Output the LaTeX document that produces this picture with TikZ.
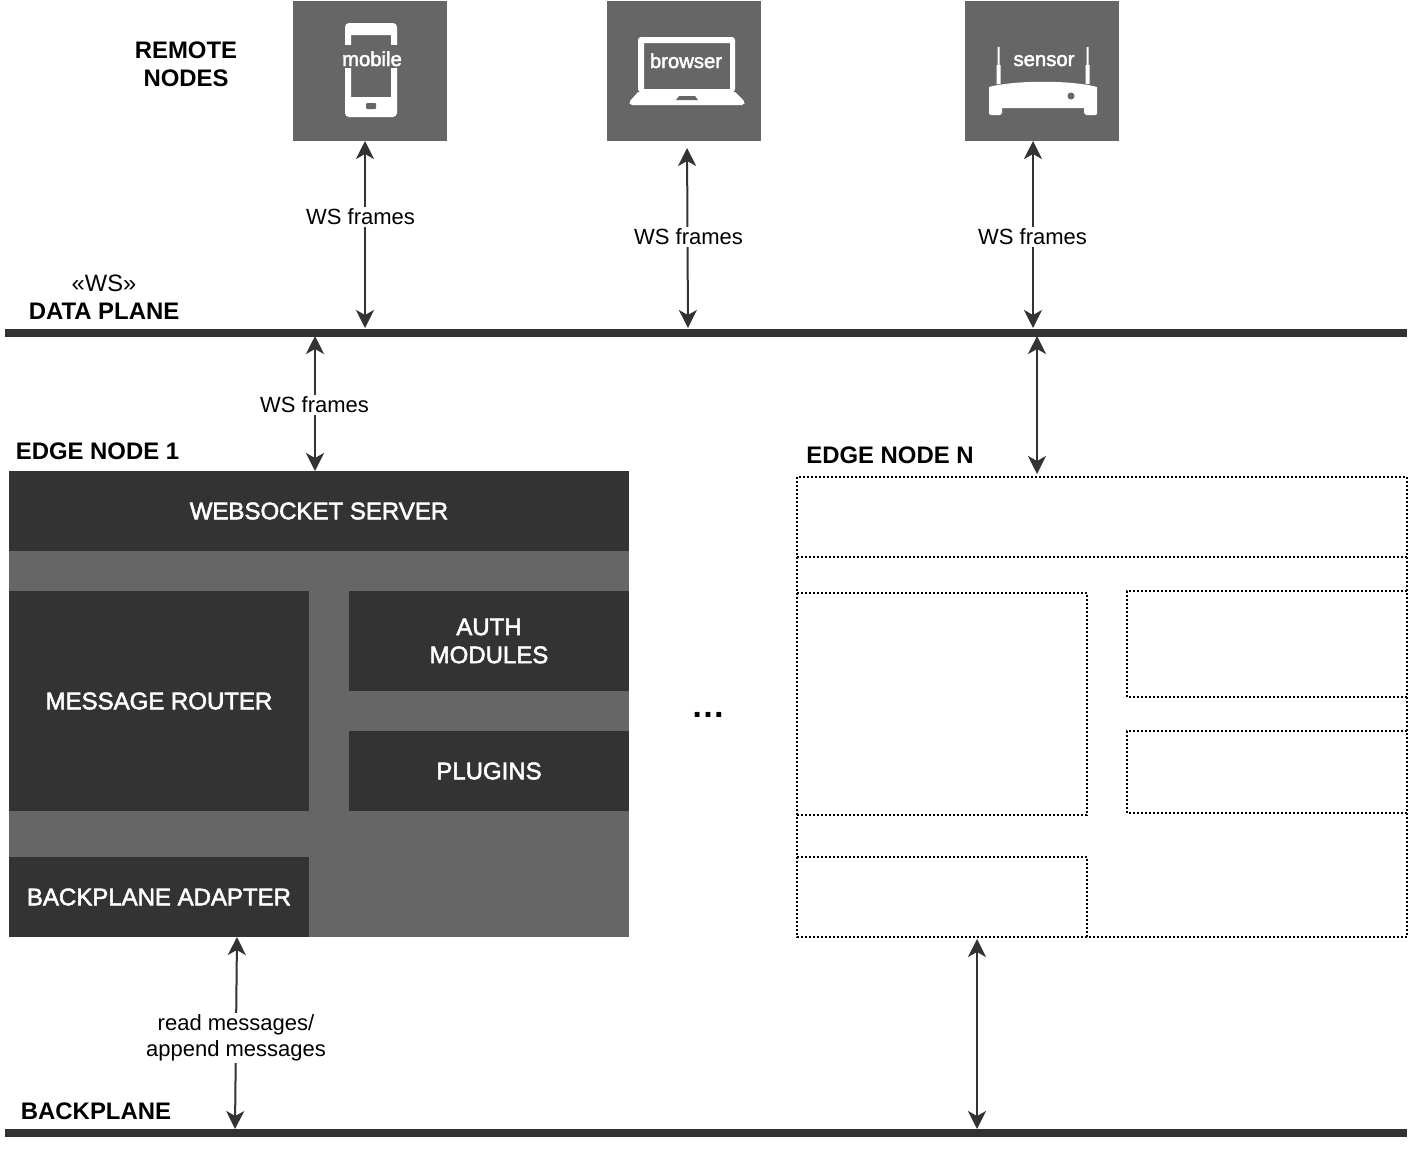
\documentclass[tikz,border=0pt]{standalone}
\usepackage{fontspec}
\setmainfont{Liberation Sans}
\newfontfamily\paneface[FakeBold=2.2]{Liberation Sans}
\usetikzlibrary{arrows.meta}
\definecolor{midgray}{HTML}{666666}
\definecolor{darkgray}{HTML}{333333}
\tikzset{
  pane/.style={anchor=north west,inner sep=0pt,outer sep=0pt,fill=#1,draw=none,text=white,align=center,font=\fontsize{24}{28}\paneface},
  ghost/.style={anchor=north west,inner sep=0pt,outer sep=0pt,draw=none},
  ghostline/.style={draw=black,line width=2pt,dash pattern=on 2pt off 2pt},
  bar/.style={anchor=north west,inner sep=0pt,outer sep=0pt,fill=darkgray,minimum width=1402pt,minimum height=8pt},
  conn/.style={draw=darkgray,line width=2pt,{Stealth[length=18pt,width=18pt,inset=5pt]}-{Stealth[length=18pt,width=18pt,inset=5pt]}},
  lbl/.style={fill=white,inner sep=1.5pt,align=center,text=black,font=\fontsize{22}{26}\selectfont},
  heading/.style={inner sep=0pt,align=center,text=black,font=\fontsize{23.9}{28}\selectfont\bfseries},
  icontext/.style={inner sep=0pt,anchor=base,text=white,font=\fontsize{20.3}{24}\paneface},
}
\begin{document}
\begin{tikzpicture}[x=1pt,y=-1pt]
\useasboundingbox (0,0) rectangle (1412,1152);

% remote nodes
\node[pane=midgray,minimum width=154pt,minimum height=140pt] (mobile) at (293,1) {};
\node[pane=midgray,minimum width=154pt,minimum height=140pt] (browser) at (607,1) {};
\node[pane=midgray,minimum width=154pt,minimum height=140pt] (sensor) at (965,1) {};

% phone icon
\fill[white,even odd rule,rounded corners=4pt] (345,23) rectangle (397,117)
  [sharp corners] (351,35) rectangle (391,97);
\fill[midgray,rounded corners=1pt] (366,103) rectangle (376,109);
\fill[midgray] (342,45) rectangle (402,68);
\node[icontext] (mobiletext) at (372,66) {mobile};

% laptop icon
\fill[white,even odd rule,rounded corners=3pt] (638,37) -- (735,37) -- (735,92) -- (638,92) -- cycle
  [sharp corners] (644,43) rectangle (730,89);
\fill[white,rounded corners=2pt] (639,91) -- (734,91) -- (745,102) -- (744,105) -- (630,105) -- (629,102) -- cycle;
\fill[midgray] (679,96) -- (695,96) -- (698,100) -- (676,100) -- cycle;
\node[icontext] (browsertext) at (686,68) {browser};

% router icon
\fill[white] (997.5,47) rectangle (999.5,65) (996.5,65) rectangle (1000.5,84);
\fill[white] (1086.5,47) rectangle (1088.5,65) (1085.5,65) rectangle (1089.5,84);
\fill[white] (989,87) .. controls (1015,80) and (1071,80) .. (1097,87) -- (1097,114) -- (1095,115) -- (1086,115) -- (1084,113) -- (1084,108) -- (1002,108) -- (1002,113) -- (1000,115) -- (991,115) -- (989,114) -- cycle;
\fill[midgray] (1071,96) circle[radius=3.5];
\node[icontext] (sensortext) at (1044,66) {sensor};

% headings
\node[heading] (remote) at (186,64) {REMOTE\\NODES};
\node[inner sep=0pt,text=black,font=\fontsize{23.7}{28}\selectfont] (ws) at (104,283) {«WS»};
\node[heading] (dataplane) at (104,311) {DATA PLANE};
\node[heading] (edge1) at (97.5,451.5) {EDGE NODE 1};
\node[heading] (edgen) at (890,455.5) {EDGE NODE N};
\node[heading] (backplane) at (96,1111.5) {BACKPLANE};
\node[inner sep=0pt,anchor=base,text=black,font=\fontsize{34}{38}\selectfont\bfseries] (dots) at (708,717) {…};

% bars
\node[bar] (databar) at (5,329) {};
\node[bar] (backbar) at (5,1129) {};

% edge node 1
\node[pane=midgray,minimum width=620pt,minimum height=466pt] (node1) at (9,471) {};
\node[pane=darkgray,minimum width=620pt,minimum height=80pt] (wsserver) at (9,471) {WEBSOCKET SERVER};
\node[pane=darkgray,minimum width=300pt,minimum height=220pt] (router) at (9,591) {MESSAGE ROUTER};
\node[pane=darkgray,minimum width=280pt,minimum height=100pt] (auth) at (349,591) {AUTH\\MODULES};
\node[pane=darkgray,minimum width=280pt,minimum height=80pt] (plugins) at (349,731) {PLUGINS};
\node[pane=darkgray,minimum width=300pt,minimum height=80pt] (adapter) at (9,857) {BACKPLANE ADAPTER};

% edge node N
\node[ghost,minimum width=610pt,minimum height=460pt] (nodeN) at (797,477) {};
\node[ghost,minimum width=610pt,minimum height=80pt] (nwsserver) at (797,477) {};
\node[ghost,minimum width=290pt,minimum height=222pt] (nrouter) at (797,593) {};
\node[ghost,minimum width=280pt,minimum height=106pt] (nauth) at (1127,591) {};
\node[ghost,minimum width=280pt,minimum height=82pt] (nplugins) at (1127,731) {};
\node[ghost,minimum width=290pt,minimum height=80pt] (nadapter) at (797,857) {};
\draw[ghostline] (nodeN.north west) rectangle (nodeN.south east);
\draw[ghostline] (nwsserver.south west) -- (nwsserver.south east);
\draw[ghostline] (nrouter.north west) -- (nrouter.north east) -- (nrouter.south east) -- (nrouter.south west);
\draw[ghostline] (nauth.north east) -- (nauth.north west) -- (nauth.south west) -- (nauth.south east);
\draw[ghostline] (nplugins.north east) -- (nplugins.north west) -- (nplugins.south west) -- (nplugins.south east);
\draw[ghostline] (nadapter.north west) -- (nadapter.north east) -- (nadapter.south east);

% connector columns
\coordinate (colA) at (365,0);
\coordinate (colB) at (687,0);
\coordinate (colBb) at (688,0);
\coordinate (colC) at (1033,0);
\coordinate (colD) at (315,0);
\coordinate (colE) at (1037,0);
\coordinate (colF) at (237,0);
\coordinate (colFb) at (235,0);
\coordinate (colG) at (977,0);

\draw[conn,shorten >=1pt] (mobile.south -| colA) -- (databar.north -| colA);
\node[lbl] (lblA) at (360.5,217) {WS frames};
\draw[conn,shorten <=7pt,shorten >=1pt] (browser.south -| colB) -- (databar.north -| colBb);
\node[lbl] (lblB) at (688.5,237) {WS frames};
\draw[conn,shorten >=1pt] (sensor.south -| colC) -- (databar.north -| colC);
\node[lbl] (lblC) at (1032.5,237) {WS frames};
\draw[conn,shorten <=-1pt] (databar.south -| colD) -- (wsserver.north -| colD);
\node[lbl] (lblD) at (314.5,405) {WS frames};
\draw[conn,shorten <=-1pt,shorten >=3pt] (databar.south -| colE) -- (nodeN.north -| colE);
\draw[conn] (adapter.south -| colF) -- (backbar.north -| colFb);
\node[lbl] (lblF) at (236,1038) {read messages/\\append messages};
\draw[conn,shorten <=2pt] (nodeN.south -| colG) -- (backbar.north -| colG);
\end{tikzpicture}
\end{document}
